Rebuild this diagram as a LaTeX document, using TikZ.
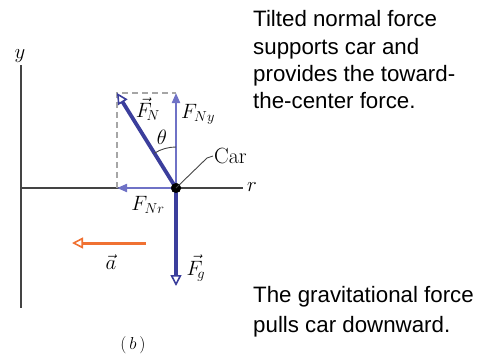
\documentclass[tikz,border=0pt]{standalone}
\usepackage{fontspec}
\newfontfamily\labelsans{Liberation Sans}
\usetikzlibrary{arrows.meta,calc}
\definecolor{darkblue}{HTML}{3B3E9C}
\definecolor{lightblue}{HTML}{6F72C6}
\definecolor{orangeacc}{HTML}{F07132}
\definecolor{axisgray}{HTML}{444444}
\begin{document}
\begin{tikzpicture}[x=1pt,y=-1pt,
  axisline/.style={draw=axisgray,line width=1.4pt},
  bigvec/.style={draw=darkblue,line width=3.8pt,-{Triangle[open,length=11pt,width=11pt,line width=1.6pt]}},
  compvec/.style={draw=lightblue,line width=2pt,-{Triangle[length=10pt,width=8pt]}},
  accvec/.style={draw=orangeacc,line width=3pt,-{Triangle[open,length=11pt,width=11pt,line width=1.6pt]}},
  mathlbl/.style={inner sep=0pt,font=\fontsize{20}{24}\selectfont},
  caption/.style={inner sep=0pt,anchor=base west,font=\labelsans\fontsize{22.3}{27}\selectfont},
]
\useasboundingbox (0,0) rectangle (481,361);
% axes
\coordinate (ytop) at (21,65);
\coordinate (ybot) at (21,308);
\coordinate (rstart) at (21,188);
\coordinate (rend) at (243,188);
\draw[axisline] (ytop) -- (ybot);
\draw[axisline] (rstart) -- (rend);
\node[mathlbl] (ylbl) at (20,56) {$y$};
\node[mathlbl] (rlbl) at (252,187) {$r$};
% car point
\node[circle,fill=black,inner sep=0pt,minimum size=10pt] (car) at (176,188) {};
% tips
\coordinate (FNtip) at (117,93);
\coordinate (FNytip) at (176,93);
\coordinate (FNrtip) at (117,188);
\coordinate (Fgtip) at (176,286);
\coordinate (atail) at (146,243);
\coordinate (ahead) at (72,243);
% dashed box
\draw[draw=gray!70,line width=1.1pt,dash pattern=on 6pt off 4pt] (FNrtip) -- (FNtip) -- (FNytip);
% components
\draw[compvec] (car.center) -- (FNytip);
\draw[compvec] (car.center) -- (FNrtip);
% big vectors
\draw[bigvec] (car.center) -- (Fgtip);
\draw[bigvec] (car.center) -- (FNtip);
\node[circle,fill=black,inner sep=0pt,minimum size=10pt] at (car) {};
% theta arc
\draw[axisgray,line width=0.9pt] ($(car)+(0,-41)$) arc[start angle=-90,end angle=-121.8,radius=41];
% acceleration
\draw[accvec] (atail) -- (ahead);
% leader to car
\coordinate (lead1) at (207,158);
\coordinate (lead2) at (213,156);
\draw[axisgray,line width=0.9pt] (car.center) -- (lead1) -- (lead2);
\node[inner sep=0pt,anchor=west,font=\fontsize{22}{26}\selectfont] (carlbl) at (214,156) {Car};
% labels
\node[mathlbl] (FNlbl) at (148,109) {$\vec{F}_{\!N}$};
\node[mathlbl] (FNylbl) at (198,114) {$F_{Ny}$};
\node[mathlbl] (thlbl) at (162,137) {$\theta$};
\node[mathlbl] (FNrlbl) at (148,205) {$F_{Nr}$};
\node[mathlbl] (albl) at (111,262) {$\vec{a}$};
\node[mathlbl] (Fglbl) at (196,268) {$\vec{F}_{\!g}$};
\node[inner sep=0pt,font=\fontsize{18}{22}\selectfont] (blbl) at (133,345) {$(\,b\,)$};
% captions
\node[caption] (cap1a) at (253,27) {Tilted normal force};
\node[caption] (cap1b) at (253,54) {supports car and};
\node[caption] (cap1c) at (253,81) {provides the toward-};
\node[caption] (cap1d) at (253,108) {the-center force.};
\node[caption] (cap2a) at (253,302) {The gravitational force};
\node[caption] (cap2b) at (253,332) {pulls car downward.};
\end{tikzpicture}
\end{document}
